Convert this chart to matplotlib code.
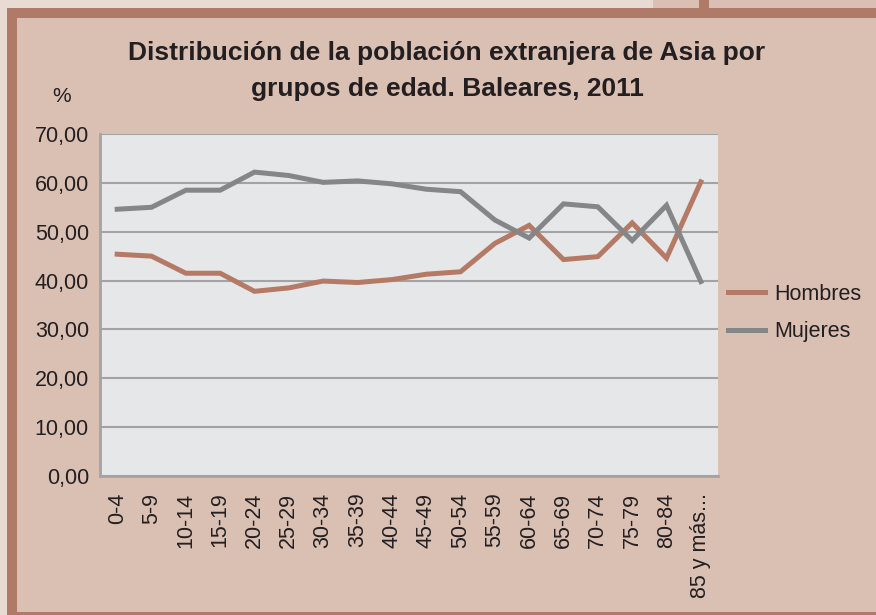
import matplotlib
matplotlib.use("Agg")
from matplotlib import pyplot as plt
from matplotlib.patches import Rectangle

grupos = ['0-4', '5-9', '10-14', '15-19', '20-24', '25-29', '30-34', '35-39',
          '40-44', '45-49', '50-54', '55-59', '60-64', '65-69', '70-74',
          '75-79', '80-84', '85 y más...']
hombres = [45.4, 45.0, 41.5, 41.5, 37.8, 38.5, 39.9, 39.6, 40.2, 41.3,
           41.8, 47.6, 51.3, 44.3, 44.9, 51.8, 44.6, 60.2]
mujeres = [54.6, 55.0, 58.5, 58.5, 62.2, 61.5, 60.1, 60.4, 59.8, 58.7,
           58.2, 52.4, 48.7, 55.7, 55.1, 48.2, 55.4, 39.8]
yticks = [0, 10, 20, 30, 40, 50, 60, 70]

col_h = '#b47a66'
col_m = '#858688'
fondo = '#dabfb3'
marco = '#b07a68'
claro = '#e8dbd4'

plt.rcParams['font.family'] = ['Liberation Sans', 'DejaVu Sans']

fig = plt.figure(figsize=(8.76, 6.15), dpi=100)
fig.patch.set_facecolor(claro)

# frame drawn in figure pixels
W, H = 876, 615
def rect(x0, y0, x1, y1, c):
    fig.patches.append(Rectangle((x0 / W, 1 - y1 / H), (x1 - x0) / W, (y1 - y0) / H,
                                 transform=fig.transFigure, facecolor=c,
                                 edgecolor='none', zorder=-10))

rect(653, 0, 876, 10, fondo)
rect(7, 8, 876, 615, marco)
rect(17, 18, 876, 612, fondo)
rect(699, 0, 709, 10, marco)

ax = fig.add_axes([100 / W, 1 - 476 / H, 618 / W, 342 / H])
ax.set_zorder(2)
ax.set_facecolor('#e6e7e8')
x = list(range(len(grupos)))
ax.plot(x, hombres, color=col_h, lw=3.6, label='Hombres', solid_joinstyle='miter')
ax.plot(x, mujeres, color=col_m, lw=3.6, label='Mujeres', solid_joinstyle='miter')

ax.set_xlim(-0.5, len(grupos) - 0.5)
ax.set_ylim(0, 70)
ax.set_yticks(yticks)
ax.set_yticklabels([f'{v:.2f}'.replace('.', ',') for v in yticks], fontsize=15.5, color='#231f20')
ax.set_xticks(x)
ax.set_xticklabels(grupos, rotation=90, fontsize=15.5, color='#231f20')
ax.tick_params(length=0, pad=12)
ax.tick_params(axis='y', pad=8)
ax.yaxis.grid(True, color='#a3a3a5', lw=1.5)
ax.set_axisbelow(True)
for s in ['top', 'right']:
    ax.spines[s].set_visible(False)
for s in ['left', 'bottom']:
    ax.spines[s].set_color('#a3a3a5')
    ax.spines[s].set_linewidth(2)

leg = fig.legend(loc='center left', bbox_to_anchor=(728 / W, 1 - 313 / H),
                 frameon=False, fontsize=15.5, handlelength=1.7, handletextpad=0.47,
                 labelspacing=0.75, borderpad=0, borderaxespad=0)
leg.set_zorder(3)
for t in leg.get_texts():
    t.set_color('#231f20')

fig.text(447 / W, 1 - 71 / H,
         'Distribución de la población extranjera de Asia por\ngrupos de edad. Baleares, 2011',
         ha='center', va='center', fontsize=19, fontweight='bold', color='#231f20',
         linespacing=1.6)
fig.text(62 / W, 1 - 97 / H, '%', ha='center', va='center', fontsize=15, color='#231f20')

fig.savefig('out.png', dpi=100, facecolor=fig.get_facecolor())
